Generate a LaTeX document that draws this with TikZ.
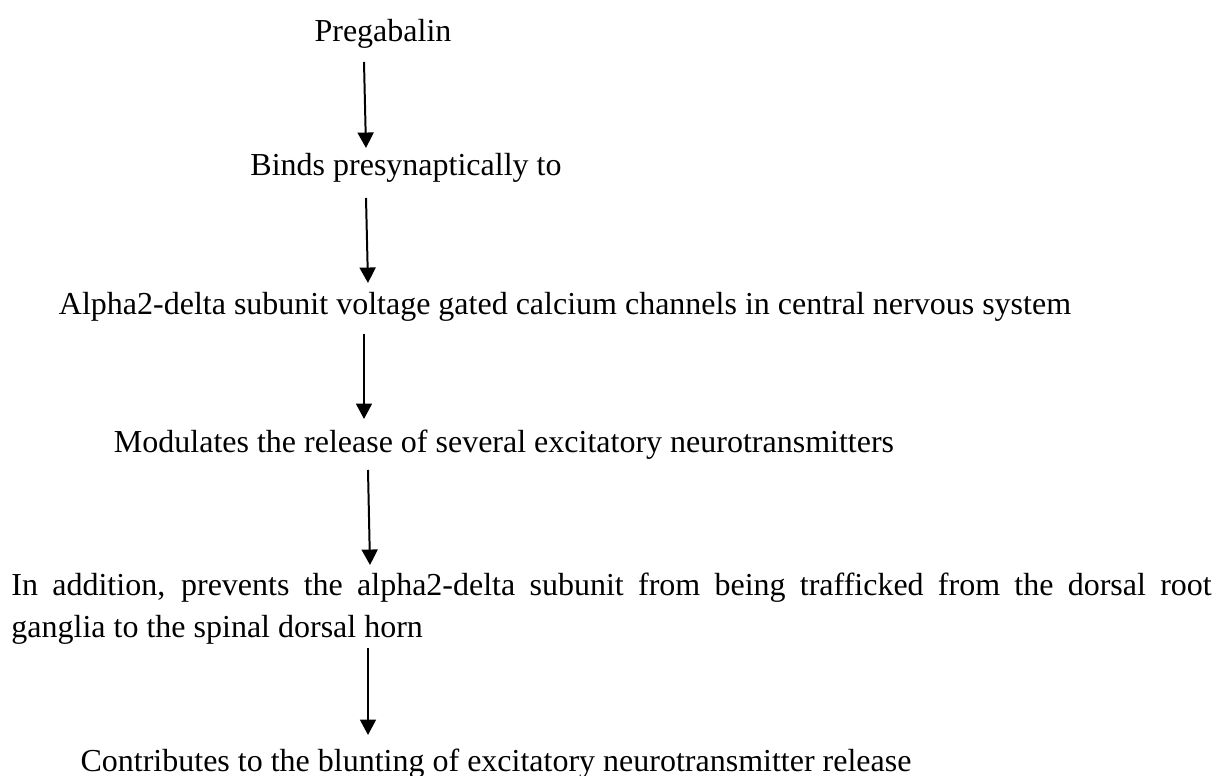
\documentclass[tikz,border=0pt]{standalone}
\usepackage{fontspec}
\setmainfont{Liberation Serif}
\usetikzlibrary{arrows.meta}
\newcommand\stepfont{\fontsize{12.85}{16.9}\selectfont\hyphenpenalty10000\relax}
\tikzset{
steptext/.style={inner sep=0pt,anchor=base,font=\stepfont},
flowarrow/.style={line width=0.8pt,-{Triangle[length=6.2pt,width=6.4pt]}}
}
\begin{document}
\begin{tikzpicture}[x=0.4016pt,y=-0.4016pt]
\useasboundingbox (0,0) rectangle (1225,776);
\path
(383,42) node[steptext](pregab){Pregabalin}
(406,176) node[steptext](binds){Binds presynaptically to}
(565,315) node[steptext](alpha){Alpha2-delta subunit voltage gated calcium channels in central nervous system}
(504,453) node[steptext](modul){Modulates the release of several excitatory neurotransmitters}
(11,572) node[steptext,anchor=north west,text width=482pt,align=justify](traff){In addition, prevents the alpha2-delta subunit from being trafficked from the dorsal root\linebreak ganglia to the spinal dorsal horn}
(496,772) node[steptext](blunt){Contributes to the blunting of excitatory neurotransmitter release};
\path
(364,62) coordinate(a1) (366,148) coordinate(b1)
(366,198) coordinate(a2) (368,283) coordinate(b2)
(364,334) coordinate(a3) (364,419) coordinate(b3)
(368,470) coordinate(a4) (370,565) coordinate(b4)
(368,648) coordinate(a5) (368,735) coordinate(b5);
\path[draw,flowarrow] (a1)--(b1);
\path[draw,flowarrow] (a2)--(b2);
\path[draw,flowarrow] (a3)--(b3);
\path[draw,flowarrow] (a4)--(b4);
\path[draw,flowarrow] (a5)--(b5);
\end{tikzpicture}
\end{document}
